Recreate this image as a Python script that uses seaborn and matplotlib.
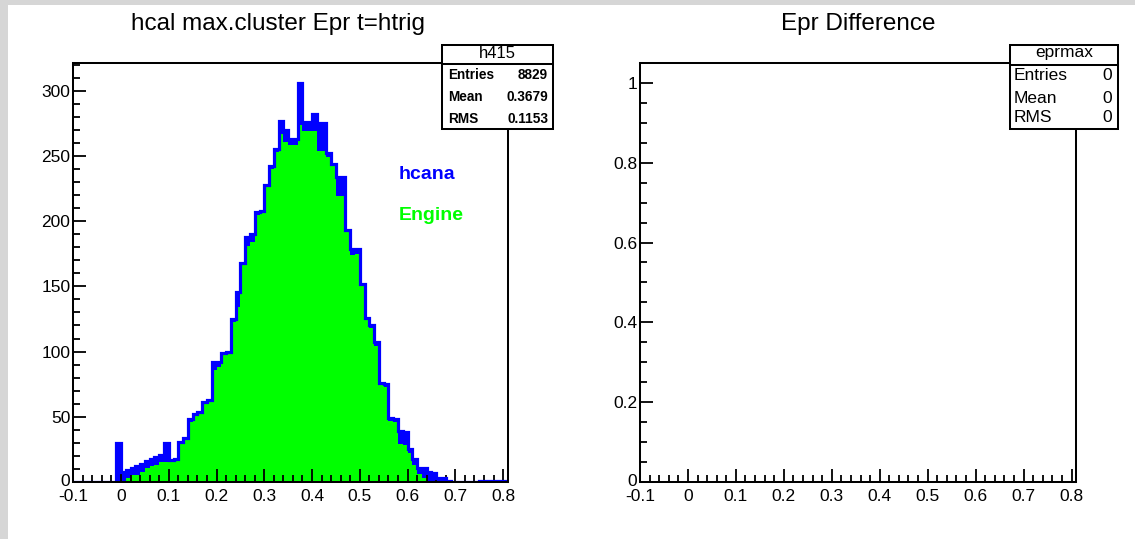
import numpy as np
import pandas as pd
import seaborn as sns
import matplotlib
matplotlib.use("Agg")
import matplotlib.pyplot as plt
from matplotlib.patches import Rectangle
from matplotlib.lines import Line2D
from matplotlib.transforms import ScaledTranslation
from matplotlib.ticker import MultipleLocator, FixedLocator, FixedFormatter

# ---- histogram contents (91 bins of width 0.01 from -0.1 to 0.81) ----
x_low, x_high, n_bins = -0.1, 0.81, 91

hcana_counts = [
    0, 0, 0, 0, 0, 0, 0, 0, 0, 30,
    8, 9, 11, 12, 14, 16, 18, 19, 21, 30,
    17, 18, 31, 34, 48, 52, 54, 61, 63, 92,
    92, 99, 100, 125, 146, 168, 188, 190, 207, 208,
    228, 242, 255, 277, 270, 263, 263, 306, 276, 276,
    282, 275, 275, 252, 244, 234, 234, 193, 179, 179,
    152, 126, 120, 107, 76, 75, 49, 48, 39, 38,
    25, 18, 11, 11, 8, 7, 3, 3, 1, 0,
    0, 0, 0, 0, 0, 1, 1, 1, 1, 1,
    1,
]
engine_counts = [
    0, 0, 0, 0, 0, 0, 0, 0, 0, 0,
    1, 3, 5, 5, 8, 11, 12, 13, 15, 15,
    15, 16, 30, 33, 46, 51, 52, 60, 61, 86,
    88, 97, 99, 123, 134, 166, 181, 184, 205, 206,
    226, 240, 253, 267, 261, 258, 258, 274, 269, 269,
    269, 254, 254, 249, 242, 219, 219, 192, 174, 175,
    150, 124, 118, 104, 74, 73, 47, 46, 29, 28,
    22, 13, 6, 3, 0, 0, 0, 0, 0, 0,
    0, 0, 0, 0, 0, 0, 0, 0, 0, 0,
    0,
]

# ---- axis labels and texts ----
x_major = [-0.1, 0.0, 0.1, 0.2, 0.3, 0.4, 0.5, 0.6, 0.7, 0.8]
x_labels = ["-0.1", "0", "0.1", "0.2", "0.3", "0.4", "0.5", "0.6", "0.7", "0.8"]
left_y_major = [0, 50, 100, 150, 200, 250, 300]
left_y_labels = ["0", "50", "100", "150", "200", "250", "300"]
right_y_major = [0.0, 0.2, 0.4, 0.6, 0.8, 1.0]
right_y_labels = ["0", "0.2", "0.4", "0.6", "0.8", "1"]

left_title = "hcal max.cluster Epr t=htrig"
right_title = "Epr Difference"
series_names = ["hcana", "Engine"]
left_stats_name = "h415"
left_stats = [("Entries", "8829"), ("Mean", "0.3679"), ("RMS", "0.1153")]
right_stats_name = "eprmax"
right_stats = [("Entries", "0"), ("Mean", "0"), ("RMS", "0")]

BLUE = "#0000ff"
GREEN = "#00ff00"

# ---- figure setup ----
W, H = 1135, 539
plt.rcParams["font.family"] = ["Liberation Sans", "DejaVu Sans"]
fig = plt.figure(figsize=(W / 100, H / 100), dpi=100)
fig.patch.set_facecolor("#d6d6d6")


def fx(px):
    return px / W


def fy(py):
    return 1 - py / H


# white canvas area; a grey border shows only on the left and top
fig.add_artist(Rectangle((fx(8), 0), fx(W - 8), (H - 5) / H,
                         transform=fig.transFigure, facecolor="white",
                         edgecolor="none", zorder=-5))

edges = list(x_low + 0.01 * np.arange(n_bins + 1))
centers = [0.5 * (a + b) for a, b in zip(edges[:-1], edges[1:])]
df = pd.DataFrame({"epr": centers, "hcana": hcana_counts, "engine": engine_counts})

LW_FRAME = 1.45


def style_axes(ax, y_major, y_labels, y_minor, ymax):
    ax.set_facecolor("white")
    ax.set_xlim(x_low, x_high)
    ax.set_ylim(0, ymax)
    ax.xaxis.set_major_locator(FixedLocator(x_major))
    ax.xaxis.set_major_formatter(FixedFormatter(x_labels))
    ax.xaxis.set_minor_locator(MultipleLocator(0.02))
    ax.yaxis.set_major_locator(FixedLocator(y_major))
    ax.yaxis.set_major_formatter(FixedFormatter(y_labels))
    ax.yaxis.set_minor_locator(MultipleLocator(y_minor))
    ax.tick_params(which="both", direction="in", top=False, right=False,
                   width=1.3, color="black", labelsize=12.5, labelcolor="black")
    ax.tick_params(which="major", length=9.5)
    ax.tick_params(which="minor", length=4.8)
    ax.tick_params(axis="x", which="both", pad=4.8)
    ax.tick_params(axis="y", which="both", pad=2)
    for s in ax.spines.values():
        s.set_linewidth(LW_FRAME)
        s.set_color("black")
    ax.set_xlabel("")
    ax.set_ylabel("")
    # the "0" at the corner sits slightly above its tick
    zero_label = ax.yaxis.get_major_ticks()[0].label1
    zero_label.set_transform(zero_label.get_transform()
                             + ScaledTranslation(0, 2.5 / 100, fig.dpi_scale_trans))


# ---- left pad: hcana filled blue, Engine filled green, hcana outline on top ----
ax1 = fig.add_axes([fx(73.2), fy(482), (507.9 - 73.2) / W, (482 - 62.9) / H])
sns.histplot(data=df, x="epr", weights="hcana", bins=edges, element="step",
             fill=True, color=BLUE, alpha=1.0, linewidth=0, ax=ax1)
sns.histplot(data=df, x="epr", weights="engine", bins=edges, element="step",
             fill=True, color=GREEN, alpha=1.0, linewidth=0, ax=ax1)
sns.histplot(data=df, x="epr", weights="hcana", bins=edges, element="step",
             fill=False, color=BLUE, linewidth=2.3, ax=ax1)
for ln in ax1.lines:
    ln.set_solid_joinstyle("miter")
    ln.set_solid_capstyle("butt")
    ln.set_zorder(2)
style_axes(ax1, left_y_major, left_y_labels, 10, 1.05 * max(hcana_counts))

ax1.text(0.749, 0.733, series_names[0], transform=ax1.transAxes, color=BLUE,
         fontsize=14, fontweight="bold", va="center", ha="left")
ax1.text(0.749, 0.635, series_names[1], transform=ax1.transAxes, color=GREEN,
         fontsize=14, fontweight="bold", va="center", ha="left")

# ---- right pad: empty difference histogram ----
ax2 = fig.add_axes([fx(640), fy(482), (1076.3 - 640) / W, (482 - 62.9) / H])
style_axes(ax2, right_y_major, right_y_labels, 0.05, 1.05)

# ---- titles ----
fig.text(fx(278), fy(24), left_title, fontsize=17.5, ha="center", va="center")
fig.text(fx(858.5), fy(24), right_title, fontsize=17.5, ha="center", va="center")


# ---- statistics boxes ----
def stats_box(x0, x1, y0, ysep, y1, name, rows, name_size, row_size, row_weight,
              row_ys, name_y, lab_x, val_x):
    fig.add_artist(Rectangle((fx(x0), fy(y1)), (x1 - x0) / W, (y1 - y0) / H,
                             transform=fig.transFigure, facecolor="white",
                             edgecolor="black", linewidth=LW_FRAME, zorder=5))
    fig.add_artist(Line2D([fx(x0), fx(x1)], [fy(ysep), fy(ysep)],
                          transform=fig.transFigure, color="black",
                          linewidth=LW_FRAME, zorder=6))
    fig.text(fx((x0 + x1) / 2), fy(name_y), name, fontsize=name_size,
             ha="center", va="center", zorder=7)
    for (lab, val), yy in zip(rows, row_ys):
        fig.text(fx(lab_x), fy(yy), lab, fontsize=row_size, fontweight=row_weight,
                 ha="left", va="center", zorder=7)
        fig.text(fx(val_x), fy(yy), val, fontsize=row_size, fontweight=row_weight,
                 ha="right", va="center", zorder=7)


stats_box(442, 553, 44.7, 63.6, 129, left_stats_name, left_stats,
          12, 9.8, "bold", [75, 97, 118.6], 54, 448, 548)
stats_box(1010, 1118, 44.7, 64.6, 129, right_stats_name, right_stats,
          12.5, 12.5, "normal", [76, 98, 118], 53, 1014, 1112)

fig.savefig("out.png", dpi=100, facecolor=fig.get_facecolor())
